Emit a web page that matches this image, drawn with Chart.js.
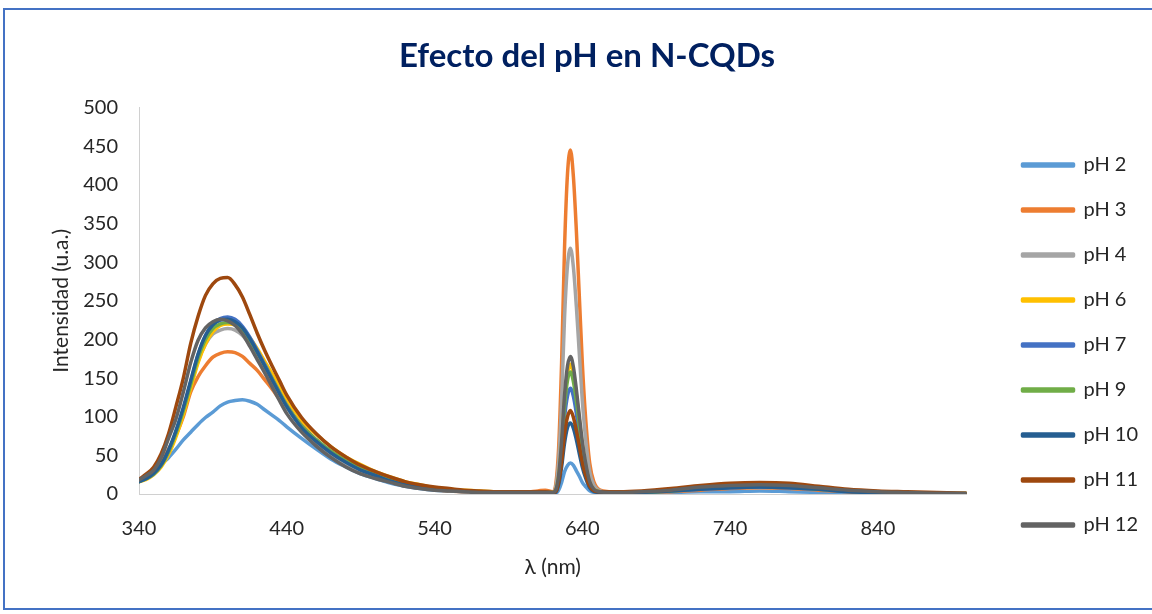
<!DOCTYPE html>
<html lang="es">
<head>
<meta charset="utf-8">
<title>Efecto del pH en N-CQDs</title>
<script src="https://cdn.jsdelivr.net/npm/chart.js@4.4.1/dist/chart.umd.min.js"></script>
<style>
  html, body { margin: 0; padding: 0; background: #fff; }
  #cadre { position: absolute; left: 3px; top: 8px; width: 1200px; height: 598px; border: 2px solid #4472c4; }
  #graphiquePH { position: absolute; left: 0; top: 0; }
</style>
</head>
<body>
<div id="cadre"></div>
<canvas id="graphiquePH" width="1152" height="614"></canvas>
<script>
// longueurs d'onde (nm)
const longueurs = [
  340, 345, 350, 355, 360, 365, 370, 375, 380, 385, 390, 395, 400, 405, 410, 415, 420, 425, 430, 435, 440,
  450, 460, 470, 480, 490, 500, 510, 520, 530, 540, 550, 560, 570, 580, 590, 600, 610,
  615, 620,
  622, 624, 626, 628, 630, 632, 634, 636, 638, 640, 642,
  645, 648, 652, 658, 665,
  680, 700, 720, 740, 760, 780, 800, 820, 840, 860, 880, 900
];

const ticksX = [340, 440, 540, 640, 740, 840];

const ph2 = [
  17, 21, 28, 38, 47, 58, 70, 80, 90, 99, 106, 114, 119, 121, 122, 120, 116, 109, 102, 95, 87,
  72, 58, 45, 35, 26, 20, 14, 10, 7, 5, 4, 3, 2, 2, 2, 1, 1,
  1, 1,
  1, 5, 15, 29, 37, 40, 37, 30, 23, 15, 10,
  4, 2, 1, 1, 1,
  1, 2, 3, 3, 4, 3, 2, 1, 1, 0, 0, 0
];
const ph3 = [
  17, 21, 28, 40, 58, 76, 100, 132, 152, 166, 177, 182, 184, 183, 178, 169, 160, 148, 136, 123, 112,
  90, 70, 53, 40, 30, 22, 16, 11, 8, 6, 4, 3, 2, 2, 3, 2, 4,
  5, 3,
  12, 60, 170, 320, 415, 445, 410, 340, 255, 170, 105,
  40, 15, 5, 3, 2,
  2, 3, 5, 7, 8, 7, 5, 3, 2, 1, 1, 0
];
const ph4 = [
  16, 20, 26, 37, 54, 78, 106, 140, 172, 194, 207, 212, 214, 212, 205, 193, 178, 162, 145, 128, 112,
  86, 66, 51, 39, 29, 22, 16, 11, 8, 6, 4, 3, 2, 2, 2, 2, 2,
  2, 2,
  9, 43, 121, 229, 296, 318, 293, 242, 181, 121, 76,
  29, 11, 4, 2, 2,
  2, 4, 6, 8, 9, 8, 6, 4, 2, 1, 1, 0
];
const ph6 = [
  16, 19, 25, 35, 51, 74, 103, 137, 170, 194, 210, 218, 220, 219, 213, 202, 188, 172, 156, 139, 122,
  96, 77, 61, 48, 38, 29, 22, 16, 12, 8, 6, 5, 4, 3, 3, 2, 2,
  2, 2,
  5, 23, 64, 121, 156, 168, 155, 128, 96, 64, 40,
  15, 6, 3, 3, 2,
  2, 4, 7, 9, 10, 9, 7, 4, 2, 1, 1, 1
];
const ph7 = [
  16, 20, 26, 37, 55, 80, 110, 145, 180, 205, 220, 227, 229, 226, 217, 203, 186, 168, 150, 132, 115,
  88, 70, 55, 42, 32, 24, 18, 13, 9, 7, 5, 4, 3, 2, 2, 2, 2,
  2, 1,
  4, 18, 52, 99, 127, 137, 126, 104, 78, 52, 33,
  12, 5, 2, 2, 2,
  2, 4, 6, 8, 9, 8, 6, 4, 2, 1, 1, 0
];
const ph9 = [
  16, 20, 26, 37, 55, 79, 108, 142, 176, 200, 214, 220, 222, 220, 212, 199, 183, 166, 149, 131, 114,
  88, 70, 55, 43, 33, 25, 18, 13, 9, 7, 5, 4, 3, 2, 2, 2, 2,
  2, 2,
  4, 21, 60, 114, 147, 158, 145, 120, 90, 60, 38,
  14, 5, 3, 2, 2,
  2, 4, 7, 9, 10, 9, 6, 4, 2, 1, 1, 0
];
const ph10 = [
  16, 20, 27, 38, 57, 82, 112, 147, 181, 205, 219, 225, 226, 223, 215, 201, 184, 166, 148, 130, 113,
  86, 68, 53, 41, 31, 24, 17, 12, 9, 6, 5, 4, 3, 2, 2, 2, 1,
  1, 1,
  2, 12, 35, 66, 86, 92, 85, 70, 52, 35, 22,
  8, 3, 2, 1, 1,
  2, 4, 6, 8, 9, 8, 6, 3, 2, 1, 0, 0
];
const ph11 = [
  19, 26, 35, 52, 78, 113, 150, 195, 230, 257, 272, 279, 280, 271, 255, 232, 208, 186, 166, 147, 128,
  99, 78, 61, 48, 37, 29, 22, 16, 12, 9, 7, 5, 4, 3, 3, 3, 3,
  3, 2,
  3, 15, 41, 78, 100, 108, 99, 82, 62, 41, 26,
  10, 4, 3, 3, 3,
  4, 7, 11, 14, 15, 14, 10, 6, 4, 3, 2, 1
];
const ph12 = [
  18, 24, 31, 47, 72, 97, 132, 170, 199, 215, 223, 226, 224, 218, 207, 191, 174, 157, 139, 121, 104,
  80, 62, 47, 35, 26, 20, 15, 10, 7, 5, 4, 3, 2, 2, 2, 2, 2,
  2, 2,
  5, 24, 68, 128, 166, 178, 164, 135, 101, 68, 43,
  16, 6, 3, 2, 2,
  3, 5, 9, 11, 12, 11, 8, 5, 3, 2, 1, 1
];

const etiquettes = ['pH 2', 'pH 3', 'pH 4', 'pH 6', 'pH 7', 'pH 9', 'pH 10', 'pH 11', 'pH 12'];
const series = [ph2, ph3, ph4, ph6, ph7, ph9, ph10, ph11, ph12];
const couleurs = ['#5b9bd5', '#ed7d31', '#a5a5a5', '#ffc000', '#4472c4', '#70ad47', '#255e91', '#9e480e', '#636363'];

const police = 'Lato, "Open Sans", sans-serif';
const texte = '#262626';

// la dernière série est dessinée par-dessus (comme dans Excel)
const datasets = series.map((valeurs, i) => ({
  label: etiquettes[i],
  data: longueurs.map((x, j) => ({ x: x, y: valeurs[j] })),
  borderColor: couleurs[i],
  backgroundColor: couleurs[i],
  borderWidth: 3.5,
  borderCapStyle: 'round',
  borderJoinStyle: 'round',
  pointRadius: 0,
  cubicInterpolationMode: 'monotone',
  order: series.length - 1 - i,
}));

const ctx = document.getElementById('graphiquePH').getContext('2d');

new Chart(ctx, {
  type: 'line',
  data: { datasets: datasets },
  options: {
    responsive: false,
    animation: false,
    layout: { padding: { left: 26, right: 4, top: 0, bottom: 0 } },
    plugins: {
      title: {
        display: true,
        text: 'Efecto del pH en N-CQDs',
        color: '#002060',
        font: { family: police, size: 33, weight: 'bold' },
        padding: { top: 37, bottom: 31 }
      },
      legend: {
        position: 'right',
        reverse: true,
        title: { display: true, text: ' ', font: { size: 10 }, padding: { top: 64, bottom: 0 } },
        labels: {
          color: texte,
          font: { family: police, size: 20 },
          boxWidth: 51,
          boxHeight: 2,
          padding: 25
        }
      },
      tooltip: { enabled: false }
    },
    scales: {
      x: {
        type: 'linear',
        min: 340,
        max: 900,
        afterBuildTicks: (axe) => { axe.ticks = ticksX.map(v => ({ value: v })); },
        afterFit: (axe) => { axe.height = 120; },
        grid: { display: false, drawTicks: false },
        border: { display: true, color: '#d0d0d0', width: 1 },
        ticks: { color: texte, font: { family: police, size: 20 }, padding: 23, maxRotation: 0 },
        title: {
          display: true,
          text: 'λ (nm)',
          color: texte,
          font: { family: police, size: 21 },
          padding: { top: 0, bottom: 34 }
        }
      },
      y: {
        min: 0,
        max: 500,
        afterFit: (axe) => { axe.width = 113; },
        grid: { display: false, drawTicks: false },
        border: { display: true, color: '#d0d0d0', width: 1 },
        ticks: { stepSize: 50, color: texte, font: { family: police, size: 20 }, padding: 21 },
        title: {
          display: true,
          text: 'Intensidad (u.a.)',
          color: texte,
          font: { family: police, size: 21 },
          padding: { top: 23, bottom: 0 }
        }
      },
      // espace vide entre le tracé et la légende
      marge: {
        type: 'linear',
        position: 'right',
        display: true,
        afterFit: (axe) => { axe.width = 31; },
        grid: { display: false, drawTicks: false },
        border: { display: false },
        ticks: { display: false }
      }
    }
  }
});
</script>
</body>
</html>
